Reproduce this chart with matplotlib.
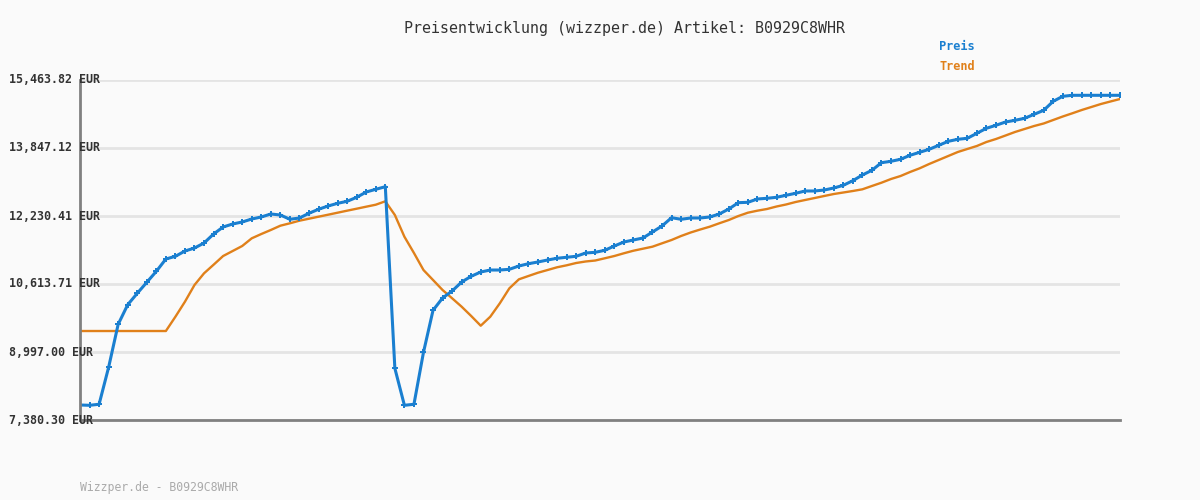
import matplotlib
matplotlib.use("Agg")
import matplotlib.pyplot as plt
import numpy as np

title = "Preisentwicklung (wizzper.de) Artikel: B0929C8WHR"
footer = "Wizzper.de - B0929C8WHR"
series_names = ["Preis", "Trend"]
y_ticks = [7380.30, 8997.00, 10613.71, 12230.41, 13847.12, 15463.82]
y_tick_labels = ["7,380.30 EUR", "8,997.00 EUR", "10,613.71 EUR",
                 "12,230.41 EUR", "13,847.12 EUR", "15,463.82 EUR"]

preis = [
    7737, 7730, 7754, 8633, 9655, 10121, 10392, 10654, 10915, 11208,
    11272, 11398, 11469, 11588, 11802, 11969, 12040, 12088, 12159, 12207,
    12278, 12254, 12152, 12183, 12295, 12390, 12468, 12532, 12580, 12675,
    12801, 12865, 12927, 8609, 7730, 7754, 8990, 9988, 10281, 10447,
    10661, 10797, 10899, 10946, 10946, 10963, 11042, 11096, 11137, 11184,
    11225, 11249, 11272, 11351, 11367, 11415, 11517, 11612, 11660, 11707,
    11850, 11993, 12190, 12152, 12183, 12183, 12207, 12278, 12397, 12547,
    12556, 12635, 12651, 12675, 12723, 12770, 12825, 12825, 12848, 12896,
    12960, 13070, 13205, 13317, 13498, 13531, 13579, 13674, 13745, 13816,
    13911, 14006, 14054, 14078, 14197, 14316, 14387, 14465, 14506, 14553,
    14648, 14743, 14957, 15076, 15100, 15100, 15100, 15100, 15100, 15100,
]

trend = [
    9496, 9496, 9496, 9496, 9496, 9496, 9496, 9496, 9496, 9496,
    9836, 10193, 10590, 10868, 11072, 11279, 11398, 11517, 11700, 11802,
    11898, 12000, 12057, 12119, 12166, 12214, 12261, 12309, 12357, 12404,
    12452, 12499, 12580, 12254, 11738, 11351, 10946, 10709, 10471, 10274,
    10074, 9853, 9622, 9836, 10155, 10511, 10725, 10804, 10882, 10946,
    11011, 11058, 11113, 11149, 11172, 11225, 11279, 11344, 11405, 11453,
    11501, 11581, 11660, 11755, 11838, 11909, 11976, 12057, 12135, 12230,
    12309, 12357, 12397, 12456, 12504, 12563, 12611, 12658, 12706, 12753,
    12789, 12825, 12865, 12944, 13022, 13110, 13181, 13277, 13364, 13467,
    13562, 13657, 13752, 13824, 13895, 13990, 14061, 14144, 14228, 14299,
    14370, 14430, 14513, 14596, 14672, 14751, 14822, 14893, 14953, 15012,
]

BLUE = "#1a7fd0"
ORANGE = "#e0801a"
BG = "#fafafa"
MONO = "DejaVu Sans Mono"

fig = plt.figure(figsize=(12, 5), dpi=100, facecolor=BG)
ax = fig.add_axes([80/1200, 80/500, 1040/1200, 340/500], facecolor=BG)

x = np.arange(len(preis))
ax.plot(x, trend, color=ORANGE, lw=1.7, zorder=3, solid_joinstyle="round")
ax.plot(x, preis, color=BLUE, lw=2.2, marker="P", markersize=4.2,
        markeredgewidth=0, zorder=4, solid_joinstyle="round")

ax.set_xlim(0, len(preis) - 1)
ax.set_ylim(y_ticks[0], y_ticks[-1])
ax.set_yticks(y_ticks)
ax.set_yticklabels([])
ax.set_xticks([])
ax.tick_params(length=0)
ax.grid(axis="y", color="#e4e4e4", lw=2, zorder=0)
for s in ["top", "right"]:
    ax.spines[s].set_visible(False)
for s in ["left", "bottom"]:
    ax.spines[s].set_color("#808080")
    ax.spines[s].set_linewidth(2)
    ax.spines[s].set_zorder(5)

# y tick labels, left-aligned at x=9px, overlapping the axis like the original
for v, lab in zip(y_ticks, y_tick_labels):
    ypix = ax.transData.transform((0, v))[1]
    fig.text(9/1200, ypix/500, lab, ha="left", va="center", family=MONO,
             fontsize=8.4, fontweight="bold", color="#333333", zorder=10)

fig.text(624/1200, 1 - 28/500, title, ha="center", va="center", family=MONO,
         fontsize=10.8, color="#333333")
fig.text(939/1200, 1 - 47/500, series_names[0], ha="left", va="center",
         family=MONO, fontsize=8.6, fontweight="bold", color=BLUE)
fig.text(939/1200, 1 - 67/500, series_names[1], ha="left", va="center",
         family=MONO, fontsize=8.6, fontweight="bold", color=ORANGE)
fig.text(80/1200, 1 - 487/500, footer, ha="left", va="center", family=MONO,
         fontsize=8.3, color="#aaaaaa")

fig.savefig("out.png", dpi=100, facecolor=BG)
